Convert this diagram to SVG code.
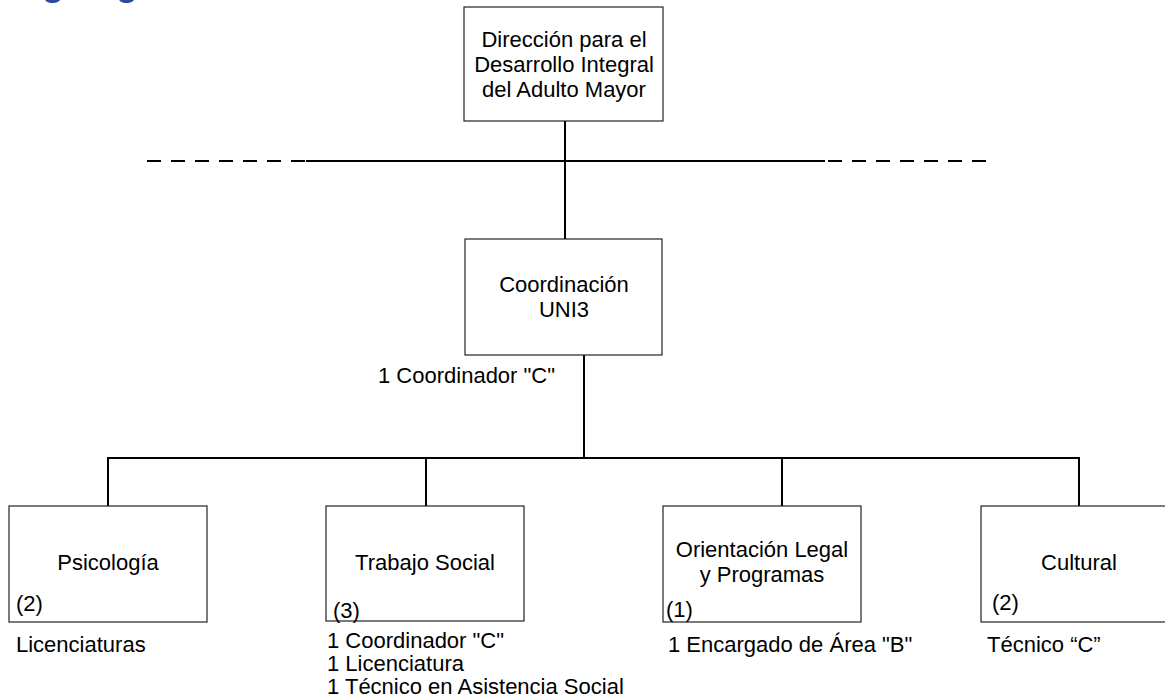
<svg xmlns="http://www.w3.org/2000/svg" width="1165" height="698" viewBox="0 0 1165 698">
<style>
.box{fill:#fff;stroke:#222;stroke-width:1.2}
.con{stroke:#000;stroke-width:2;fill:none}
.t{font-family:"Liberation Sans",Arial,sans-serif;font-size:22px;fill:#000}
.c{text-anchor:middle}
.title{font-family:"Liberation Sans",Arial,sans-serif;font-size:36px;font-weight:bold;fill:#2E4A9C}
</style>
<rect width="1165" height="698" fill="#fff"/>
<text class="title" x="0" y="-5">Organigrama</text>
<g id="connectors">
<line class="con" x1="565" y1="121" x2="565" y2="239"/>
<line class="con" x1="306" y1="161" x2="825" y2="161"/>
<line class="con" x1="147" y1="161" x2="306" y2="161" stroke-dasharray="14 10"/>
<line class="con" x1="828" y1="161" x2="987" y2="161" stroke-dasharray="14 10"/>
<line class="con" x1="584" y1="355" x2="584" y2="458"/>
<line class="con" x1="107" y1="458" x2="1080" y2="458"/>
<line class="con" x1="108" y1="458" x2="108" y2="506"/>
<line class="con" x1="426" y1="458" x2="426" y2="506"/>
<line class="con" x1="782" y1="458" x2="782" y2="506"/>
<line class="con" x1="1079" y1="458" x2="1079" y2="506"/>
</g>
<g id="direccion">
<rect class="box" x="464" y="7" width="199" height="114"/>
<text class="t c" x="564" y="47">Dirección para el</text>
<text class="t c" x="564" y="72">Desarrollo Integral</text>
<text class="t c" x="564" y="97">del Adulto Mayor</text>
</g>
<g id="coordinacion">
<rect class="box" x="465" y="239" width="197" height="116"/>
<text class="t c" x="564" y="292">Coordinación</text>
<text class="t c" x="564" y="317">UNI3</text>
<text class="t" x="378" y="383">1 Coordinador "C"</text>
</g>
<g id="psicologia">
<rect class="box" x="9" y="506" width="198" height="116"/>
<text class="t c" x="108" y="570">Psicología</text>
<text class="t" x="16" y="611">(2)</text>
<text class="t" x="16" y="652">Licenciaturas</text>
</g>
<g id="trabajo-social">
<rect class="box" x="326" y="506" width="198" height="115"/>
<text class="t c" x="425" y="570">Trabajo Social</text>
<text class="t" x="333" y="618">(3)</text>
<text class="t" x="327" y="648">1 Coordinador "C"</text>
<text class="t" x="327" y="671">1 Licenciatura</text>
<text class="t" x="327" y="694">1 Técnico en Asistencia Social</text>
</g>
<g id="orientacion">
<rect class="box" x="663" y="506" width="198" height="116"/>
<text class="t c" x="762" y="557">Orientación Legal</text>
<text class="t c" x="762" y="582">y Programas</text>
<text class="t" x="666" y="617">(1)</text>
<text class="t" x="668" y="652">1 Encargado de Área "B"</text>
</g>
<g id="cultural">
<rect class="box" x="981" y="506" width="198" height="116"/>
<text class="t c" x="1079" y="570">Cultural</text>
<text class="t" x="992" y="610">(2)</text>
<text class="t" x="987" y="652">Técnico “C”</text>
</g>
</svg>
